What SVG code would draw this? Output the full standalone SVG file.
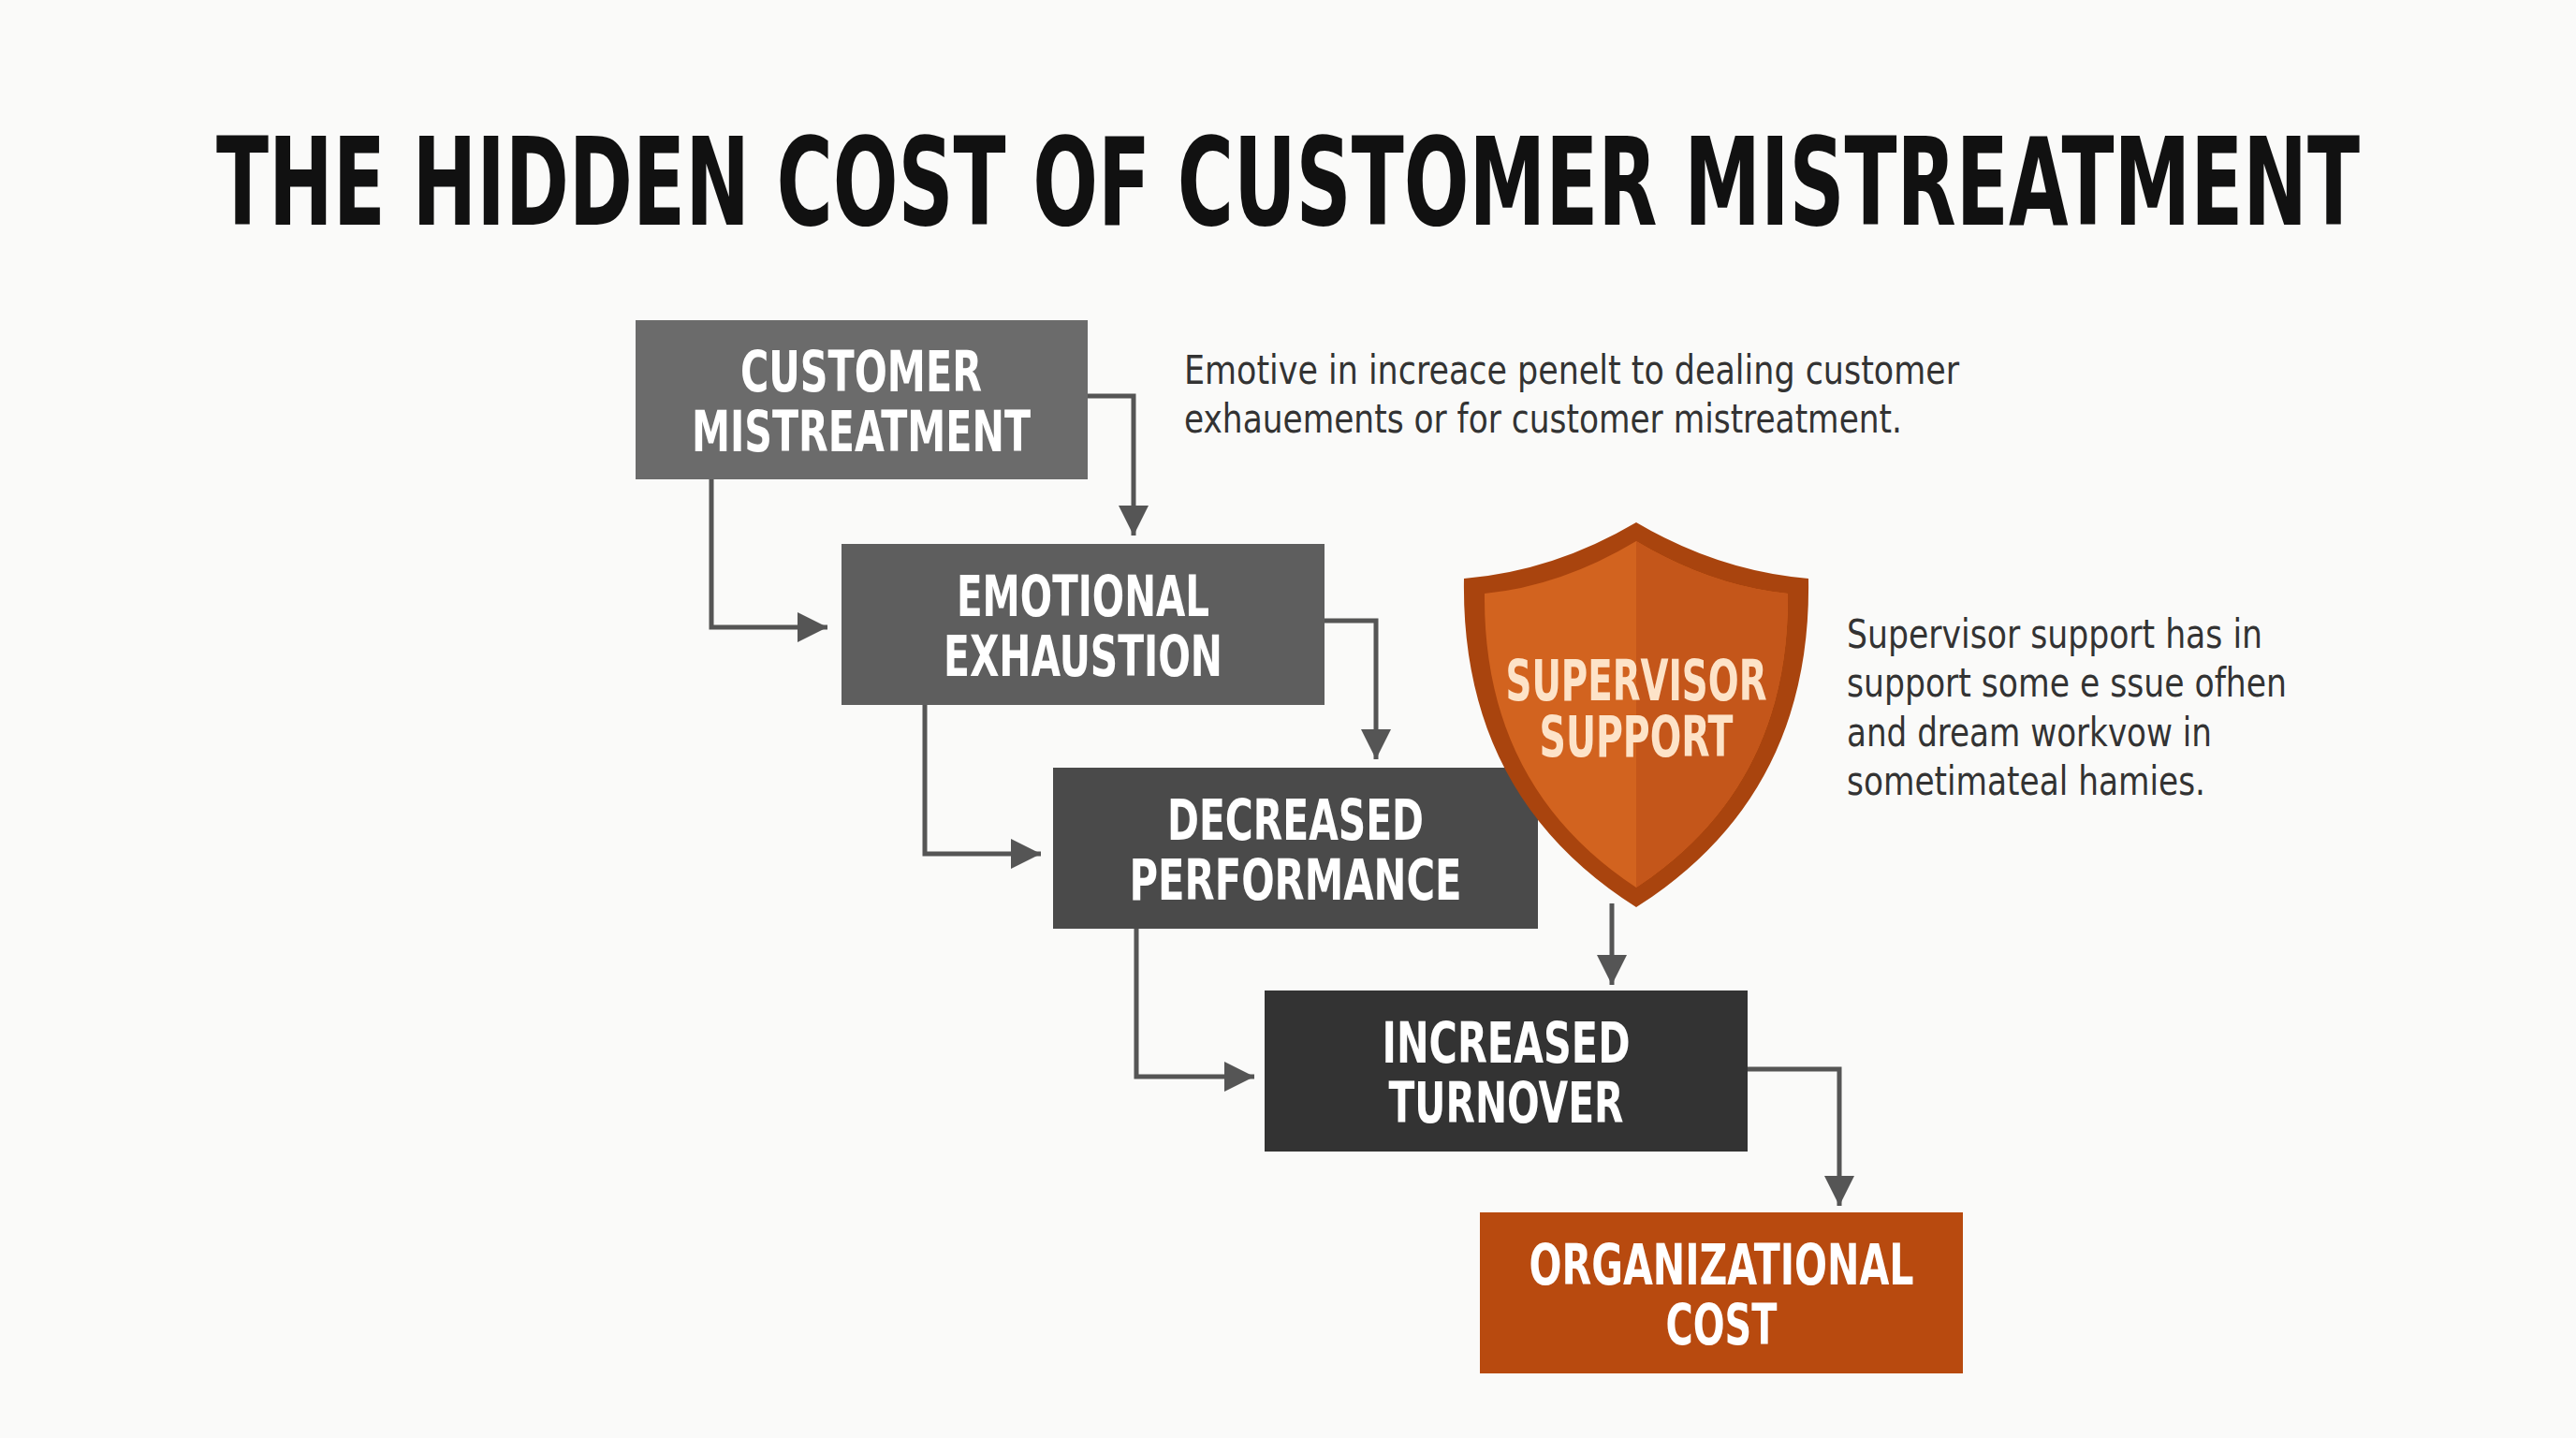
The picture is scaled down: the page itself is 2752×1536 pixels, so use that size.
<svg xmlns="http://www.w3.org/2000/svg" width="2752" height="1536" viewBox="0 0 2752 1536">
<style>
.bt{font-family:"DejaVu Sans Condensed","DejaVu Sans",sans-serif;font-weight:bold;font-size:60px;fill:#fff;text-anchor:middle}
.an{font-family:"DejaVu Sans Condensed","DejaVu Sans",sans-serif;font-size:42px;fill:#333}
.c{fill:none;stroke:#555;stroke-width:5;marker-end:url(#ah)}
</style>
<defs><marker id="ah" viewBox="0 0 10 10" refX="10" refY="5" markerWidth="32" markerHeight="32" markerUnits="userSpaceOnUse" orient="auto"><path d="M0,0 L10,5 L0,10 z" fill="#555"/></marker></defs>
<rect width="2752" height="1536" fill="#fafaf9"/>
<text x="1376" y="240" font-family="DejaVu Sans Condensed,DejaVu Sans,sans-serif" font-weight="bold" font-size="130" text-anchor="middle" textLength="2290" lengthAdjust="spacingAndGlyphs" fill="#111">THE HIDDEN COST OF CUSTOMER MISTREATMENT</text>
<g id="connectors">
<path class="c" d="M1162,423 H1211 V572"/>
<path class="c" d="M760,512 V670 H884"/>
<path class="c" d="M1415,663 H1470 V811"/>
<path class="c" d="M988,753 V912 H1112"/>
<path class="c" d="M1214,992 V1150 H1340"/>
<path class="c" d="M1722,965 V1052"/>
<path class="c" d="M1867,1142 H1965 V1288"/>
</g>
<g id="n1"><rect x="679" y="342" width="483" height="170" fill="#6b6b6b"/><text class="bt" x="920" y="418" textLength="258" lengthAdjust="spacingAndGlyphs">CUSTOMER</text><text class="bt" x="920" y="482" textLength="362" lengthAdjust="spacingAndGlyphs">MISTREATMENT</text></g>
<g id="n2"><rect x="899" y="581" width="516" height="172" fill="#5e5e5e"/><text class="bt" x="1157" y="658" textLength="270" lengthAdjust="spacingAndGlyphs">EMOTIONAL</text><text class="bt" x="1157" y="722" textLength="298" lengthAdjust="spacingAndGlyphs">EXHAUSTION</text></g>
<g id="n3"><rect x="1125" y="820" width="518" height="172" fill="#4a4a4a"/><text class="bt" x="1384" y="897" textLength="274" lengthAdjust="spacingAndGlyphs">DECREASED</text><text class="bt" x="1384" y="961" textLength="355" lengthAdjust="spacingAndGlyphs">PERFORMANCE</text></g>
<g id="n4"><rect x="1351" y="1058" width="516" height="172" fill="#333"/><text class="bt" x="1609" y="1135" textLength="265" lengthAdjust="spacingAndGlyphs">INCREASED</text><text class="bt" x="1609" y="1199" textLength="251" lengthAdjust="spacingAndGlyphs">TURNOVER</text></g>
<g id="n5"><rect x="1581" y="1295" width="516" height="172" fill="#b84a0f"/><text class="bt" x="1839" y="1372" textLength="411" lengthAdjust="spacingAndGlyphs">ORGANIZATIONAL</text><text class="bt" x="1839" y="1436" textLength="119" lengthAdjust="spacingAndGlyphs">COST</text></g>
<g id="shield">
<path d="M1748,558 Q1660,610 1564,618 Q1560,850 1748,969 Q1936,850 1932,618 Q1836,610 1748,558 Z" fill="#a9440e"/>
<path d="M1748,578 Q1668,626 1586,634 Q1584,840 1748,948 Q1912,840 1910,634 Q1828,626 1748,578 Z" fill="#d2631f"/>
<path d="M1748,578 Q1828,626 1910,634 Q1912,840 1748,948 Z" fill="#c4561a"/>
<text class="bt" x="1748" y="748" style="fill:#fde3c8" textLength="279" lengthAdjust="spacingAndGlyphs">SUPERVISOR</text>
<text class="bt" x="1748" y="808" style="fill:#fde3c8" textLength="207" lengthAdjust="spacingAndGlyphs">SUPPORT</text>
</g>
<g id="notes">
<text class="an" x="1265" y="410" textLength="828" lengthAdjust="spacingAndGlyphs">Emotive in increace penelt to dealing customer</text>
<text class="an" x="1265" y="462" textLength="767" lengthAdjust="spacingAndGlyphs">exhauements or for customer mistreatment.</text>
<text class="an" x="1973" y="692" textLength="444" lengthAdjust="spacingAndGlyphs">Supervisor support has in</text>
<text class="an" x="1973" y="744" textLength="470" lengthAdjust="spacingAndGlyphs">support some e ssue ofhen</text>
<text class="an" x="1973" y="797" textLength="390" lengthAdjust="spacingAndGlyphs">and dream workvow in</text>
<text class="an" x="1973" y="849" textLength="383" lengthAdjust="spacingAndGlyphs">sometimateal hamies.</text>
</g>
</svg>
